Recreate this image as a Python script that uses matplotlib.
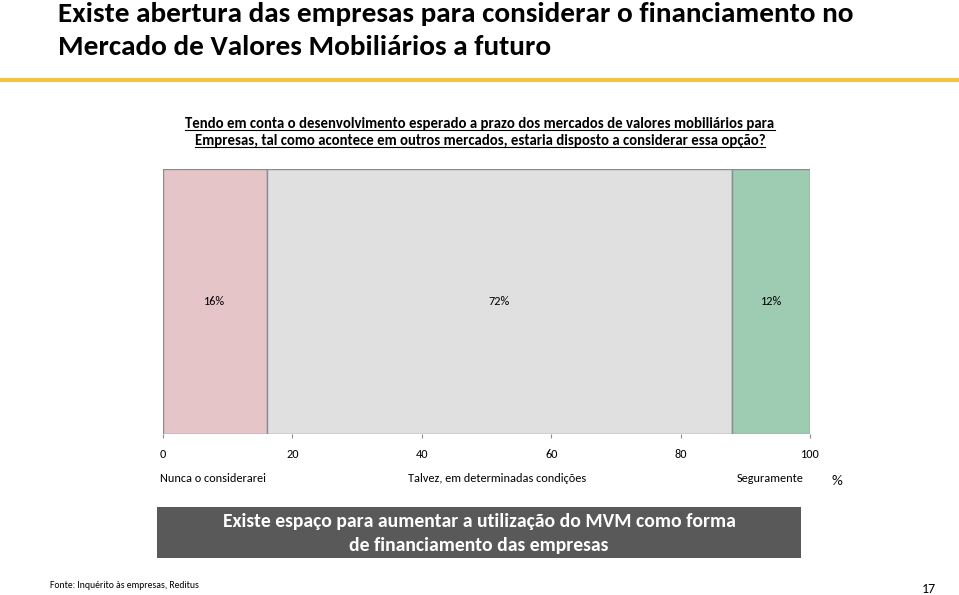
import matplotlib
matplotlib.use("Agg")
import matplotlib.pyplot as plt
from matplotlib import font_manager
from matplotlib.patches import Rectangle
from matplotlib.lines import Line2D

categories = ["Nunca o considerarei", "Talvez, em determinadas condições", "Seguramente"]
shares = [16, 72, 12]
colors = ["#E6C5C9", "#E0E0E0", "#9DCCB3"]
ticks = [0, 20, 40, 60, 80, 100]

# pick a Calibri-like font if one is there
installed = set(f.name for f in font_manager.fontManager.ttflist)
font = "DejaVu Sans"
for cand in ["Carlito", "Roboto Condensed", "Open Sans Condensed", "Liberation Sans Narrow",
             "Noto Sans Display", "Roboto"]:
    if cand in installed:
        font = cand
        break
plt.rcParams['font.family'] = [font, 'DejaVu Sans']

W, H = 959, 595
fig = plt.figure(figsize=(W / 100, H / 100), dpi=100)
r = fig.canvas.get_renderer()

def fx(px):
    return px / W

def fy(py):
    return 1 - py / H

def fit(t, width):
    # scale font size so the text spans the width seen in the reference
    bb = t.get_window_extent(r)
    t.set_fontsize(t.get_fontsize() * width / bb.width)
    return t

# title
fit(fig.text(fx(58), fy(14), "Existe abertura das empresas para considerar o financiamento no",
             fontsize=20, fontweight="bold", va="center", ha="left"), 797)
t2 = fig.text(fx(58), fy(47), "Mercado de Valores Mobiliários a futuro",
              fontsize=20, fontweight="bold", va="center", ha="left")
fit(t2, 493)
fig.add_artist(Line2D([0, 1], [fy(80), fy(80)], color="#F5C242", lw=3, transform=fig.transFigure))

# question (underlined)
q_lines = ["Tendo em conta o desenvolvimento esperado a prazo dos mercados de valores mobiliários para",
           "Empresas, tal como acontece em outros mercados, estaria disposto a considerar essa opção?"]
q_texts = []
for i, line in enumerate(q_lines):
    q_texts.append(fig.text(fx(480), fy(124 + 17 * i), line, fontsize=10, fontweight="bold",
                            ha="center", va="center"))
fit(q_texts[0], 586)
q_texts[1].set_fontsize(q_texts[0].get_fontsize())

# bar axes
probe = fig.text(0, 0, categories[1], fontsize=10)
small = 10 * 177 / probe.get_window_extent(r).width
probe.remove()

ax = fig.add_axes([fx(163), fy(434), fx(810) - fx(163), (434 - 169) / H])
left = 0
for val, col in zip(shares, colors):
    ax.barh(0, val, left=left, height=1, color=col, edgecolor="#8C8C8C", linewidth=1)
    ax.text(left + val / 2, 0, f"{val}%", ha="center", va="center", fontsize=small)
    left += val
ax.set_xlim(0, 100)
ax.set_ylim(-0.5, 0.5)
ax.set_yticks([])
for s in ax.spines.values():
    s.set_visible(False)
ax.set_xticks(ticks)
ax.tick_params(axis="x", length=3, color="#8C8C8C", labelsize=small, pad=8)
ax.set_xticklabels([str(t) for t in ticks])

# category labels
fig.text(fx(160), fy(478), categories[0], fontsize=small, ha="left", va="center")
fig.text(fx(497), fy(478), categories[1], fontsize=small, ha="center", va="center")
fig.text(fx(804), fy(478), categories[2], fontsize=small, ha="right", va="center")
fig.text(fx(837), fy(481), "%", fontsize=small * 1.25, ha="center", va="center")

# conclusion box
fig.add_artist(Rectangle((fx(157), fy(558)), fx(801) - fx(157), (558 - 507) / H,
                         facecolor="#595959", edgecolor="none", transform=fig.transFigure))
b1 = fig.text(fx(479), fy(521), "Existe espaço para aumentar a utilização do MVM como forma",
              color="white", fontsize=13, fontweight="bold", ha="center", va="center")
fit(b1, 511)
fig.text(fx(479), fy(545), "de financiamento das empresas", color="white",
         fontsize=b1.get_fontsize(), fontweight="bold", ha="center", va="center")

# footer
fit(fig.text(fx(50), fy(586), "Fonte: Inquérito às empresas, Reditus", fontsize=7,
             ha="left", va="center"), 150)
fig.text(fx(936), fy(589), "17", fontsize=10, ha="right", va="center")

# underline question text
fig.canvas.draw()
for t in q_texts:
    bb = t.get_window_extent(r)
    y = bb.y0 + 1
    fig.add_artist(Line2D([bb.x0 / W, bb.x1 / W], [y / H, y / H], color="black", lw=0.8,
                          transform=fig.transFigure))

fig.savefig("out.png", dpi=100)
